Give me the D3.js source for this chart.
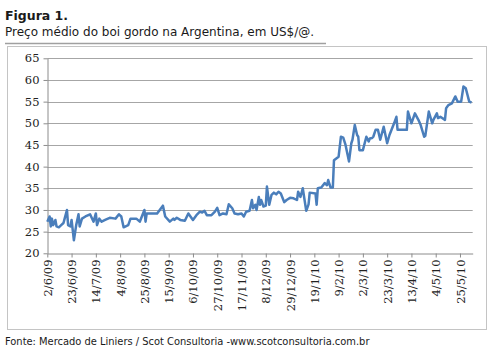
<!DOCTYPE html>
<html><head><meta charset="utf-8">
<script src="https://cdn.jsdelivr.net/npm/d3@7"></script>
<style>
html,body{margin:0;padding:0;background:#fff;}
svg{display:block;}
</style></head>
<body>
<script>
const titleText = "Figura 1.";
const subtitleText = "Preço médio do boi gordo na Argentina, em US$/@.";
const sourceText = "Fonte: Mercado de Liniers / Scot Consultoria -www.scotconsultoria.com.br";

const dates = ["2/6/09","4/6/09","5/6/09","6/6/09","7/6/09","9/6/09","10/6/09","12/6/09","14/6/09","16/6/09","17/6/09","19/6/09","20/6/09","22/6/09","23/6/09","25/6/09","27/6/09","29/6/09","30/6/09","2/7/09","5/7/09","9/7/09","12/7/09","14/7/09","15/7/09","17/7/09","19/7/09","22/7/09","26/7/09","31/7/09","3/8/09","5/8/09","7/8/09","11/8/09","13/8/09","18/8/09","21/8/09","25/8/09","26/8/09","27/8/09","5/9/09","10/9/09","12/9/09","16/9/09","19/9/09","20/9/09","22/9/09","25/9/09","29/9/09","2/10/09","6/10/09","9/10/09","12/10/09","14/10/09","16/10/09","18/10/09","22/10/09","25/10/09","27/10/09","29/10/09","1/11/09","4/11/09","6/11/09","9/11/09","11/11/09","14/11/09","17/11/09","19/11/09","21/11/09","24/11/09","26/11/09","27/11/09","29/11/09","30/11/09","2/12/09","3/12/09","4/12/09","6/12/09","8/12/09","9/12/09","11/12/09","13/12/09","15/12/09","17/12/09","19/12/09","21/12/09","24/12/09","26/12/09","29/12/09","1/1/10","4/1/10","5/1/10","7/1/10","9/1/10","12/1/10","14/1/10","15/1/10","20/1/10","21/1/10","22/1/10","25/1/10","28/1/10","30/1/10","31/1/10","2/2/10","4/2/10","5/2/10","7/2/10","9/2/10","11/2/10","13/2/10","15/2/10","18/2/10","20/2/10","21/2/10","23/2/10","25/2/10","26/2/10","27/2/10","2/3/10","5/3/10","7/3/10","8/3/10","10/3/10","11/3/10","13/3/10","15/3/10","17/3/10","20/3/10","23/3/10","25/3/10","29/3/10","31/3/10","1/4/10","7/4/10","9/4/10","10/4/10","13/4/10","16/4/10","19/4/10","21/4/10","24/4/10","25/4/10","28/4/10","1/5/10","2/5/10","5/5/10","6/5/10","8/5/10","12/5/10","13/5/10","15/5/10","18/5/10","21/5/10","23/5/10","26/5/10","28/5/10","30/5/10","2/6/10","4/6/10"];
const prices = [27.3,28.5,26.2,28,26.5,27.7,26.2,26,26.5,27,28,30,26.5,26.2,27.7,23,26.5,29,26.2,28,28.5,29,27.3,29.2,26.5,28,27.3,27.7,28.2,28,29,28.5,26,26.5,28,28,27.3,30,27.3,29.2,29.2,31,28.5,27.3,28,27.7,28.2,27.7,27.5,29.2,27.7,28.8,29.6,29.4,29.8,28.8,28.8,29.6,30.5,28.8,29.2,29,31.3,30.4,29.2,29,29.2,28.5,29.6,29.8,32.3,30.4,31.2,30,33,31.2,32.3,30.8,31,35.4,31.2,33.5,34,33.6,34.2,33.8,31.8,32.3,32.8,32.7,32.3,34.2,33,35,29.8,31.3,34,33.8,31.2,35,35.2,36.2,35.7,36.9,35.2,35.2,41.5,41.9,42.3,46.9,46.7,45,41.2,45.4,46.2,49.6,47.3,46.9,43.8,43.8,46.9,45.8,46.5,46.6,46.9,48.5,48.5,46.2,49.2,45.4,47.3,50,51.5,48.5,48.5,48.5,52.7,50,52.3,50.8,49.6,46.9,47.1,52.7,50,50.8,52.3,51.2,51.5,50.8,53.5,54.2,54.6,56.2,55,55,58.5,58.1,55,54.8];
const tickLabels = ["2/6/09","23/6/09","14/7/09","4/8/09","25/8/09","15/9/09","6/10/09","27/10/09","17/11/09","8/12/09","29/12/09","19/1/10","9/2/10","2/3/10","23/3/10","13/4/10","4/5/10","25/5/10"];
const yTicks = [20,25,30,35,40,45,50,55,60,65];
const xDomain = ["2/6/09","5/6/10"];

const W = 496, H = 355;
const parse = d3.timeParse("%d/%m/%y");
const data = dates.map((d,i)=>({date: parse(d), value: prices[i]}));

const svg = d3.select("body").append("svg").attr("width",W).attr("height",H);

svg.append("text").attr("x",5).attr("y",20)
  .attr("font-family","DejaVu Sans, Verdana, sans-serif").attr("font-size",12.5).attr("font-weight","bold")
  .attr("fill","#1a1a1a").text(titleText);
svg.append("text").attr("x",5).attr("y",36)
  .attr("font-family","DejaVu Sans, Verdana, sans-serif").attr("font-size",12)
  .attr("fill","#1a1a1a").text(subtitleText);
svg.append("line").attr("x1",5).attr("x2",326).attr("y1",43.5).attr("y2",43.5)
  .attr("stroke","#a0a0a0").attr("stroke-width",1.5);

// chart border
svg.append("rect").attr("x",7.5).attr("y",46.5).attr("width",479).attr("height",283)
  .attr("fill","#fff").attr("stroke","#c4c4c4").attr("stroke-width",1);

const x = d3.scaleTime().domain(xDomain.map(parse)).range([47.3, 472.7]);
const y = d3.scaleLinear().domain([20,65]).range([253.3, 58.3]);

// gridlines
svg.append("g").selectAll("line").data(yTicks.filter(v=>v>20)).join("line")
  .attr("x1",47.3).attr("x2",472.7)
  .attr("y1",d=>Math.round(y(d))+0.5).attr("y2",d=>Math.round(y(d))+0.5)
  .attr("stroke","#a6a6a6").attr("stroke-width",1);

// y axis
const yAxis = svg.append("g").attr("transform","translate(47.5,0)")
  .call(d3.axisLeft(y).tickValues(yTicks).tickSize(4).tickSizeOuter(0));
yAxis.select(".domain").attr("stroke","#8c8c8c");
yAxis.selectAll(".tick line").attr("stroke","#8c8c8c");
yAxis.selectAll(".tick text").attr("font-family","DejaVu Serif, serif").attr("font-size",11.5)
  .attr("fill","#222").attr("x",-8);

// x axis
const xAxis = svg.append("g").attr("transform",`translate(0,${Math.round(y(20))+0.5})`)
  .call(d3.axisBottom(x).tickValues(tickLabels.map(parse)).tickFormat((d,i)=>tickLabels[i]).tickSize(4).tickSizeOuter(0));
xAxis.select(".domain").attr("stroke","#8c8c8c");
xAxis.selectAll(".tick line").attr("stroke","#8c8c8c");
xAxis.selectAll(".tick text").attr("font-family","DejaVu Serif, serif").attr("font-size",11.5)
  .attr("fill","#222")
  .attr("transform","rotate(-90)").attr("text-anchor","end")
  .attr("x",-6).attr("y",0).attr("dy","0.35em");

// line
svg.append("path").datum(data)
  .attr("fill","none").attr("stroke","#4a7ebb").attr("stroke-width",2.5)
  .attr("stroke-linejoin","round")
  .attr("d", d3.line().x(d=>x(d.date)).y(d=>y(d.value)));

svg.append("text").attr("x",5).attr("y",345)
  .attr("font-family","DejaVu Sans Condensed, DejaVu Sans, sans-serif").attr("font-stretch","condensed").attr("font-size",11)
  .attr("fill","#1a1a1a").text(sourceText);
</script>
</body></html>
